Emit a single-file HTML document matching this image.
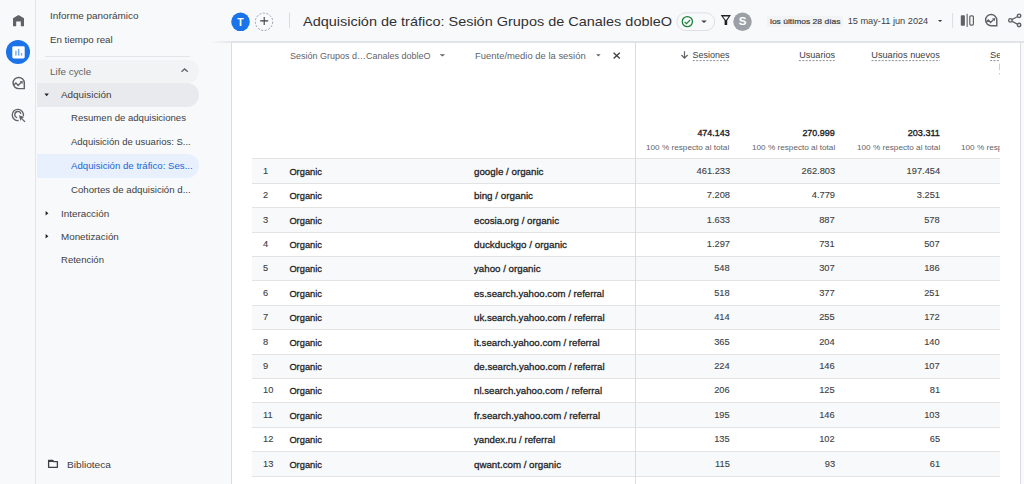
<!DOCTYPE html>
<html><head><meta charset="utf-8">
<style>
html,body{margin:0;padding:0;width:1024px;height:484px;overflow:hidden;background:#f8f9fa;font-family:"Liberation Sans",sans-serif;}
.a{position:absolute;}
.t{position:absolute;white-space:nowrap;line-height:1;font-family:"Liberation Sans",sans-serif;}
.row{position:absolute;left:252px;width:748px;}
.rl{position:absolute;left:252px;width:748px;height:1px;background:#e3e3e3;}
svg{position:absolute;overflow:visible;}
</style></head><body>
<!-- rail -->
<div class="a" style="left:0;top:0;width:35px;height:484px;background:#f8f9fa;border-right:1px solid #e3e5e8;"></div>
<!-- nav panel -->
<div class="a" style="left:36px;top:0;width:196px;height:484px;background:#f8f9fa;"></div>
<div class="a" style="left:231px;top:42px;width:1px;height:442px;background:#dadce0;"></div>
<!-- header shadow over nav edge -->
<div class="a" style="left:209px;top:41px;width:23px;height:2px;background:linear-gradient(to right,rgba(225,227,230,0),#e3e5e8);"></div>
<!-- content -->
<div class="a" style="left:232px;top:42px;width:788px;height:442px;background:#ffffff;"></div>
<div class="a" style="left:1020px;top:42px;width:1px;height:442px;background:#dadce0;"></div>
<!-- header bottom line -->
<div class="a" style="left:232px;top:41px;width:792px;height:1.5px;background:#e1e3e6;"></div>

<!-- nav separators / pills -->
<div class="a" style="left:45px;top:55.5px;width:145px;height:1px;background:#e3e5e8;"></div>
<div class="a" style="left:37px;top:60px;width:161.5px;height:23px;background:#f1f3f4;border-radius:0 12px 12px 0;"></div>
<div class="a" style="left:37px;top:83.3px;width:161.5px;height:23.6px;background:#e8eaed;border-radius:0 12px 12px 0;"></div>
<div class="a" style="left:37px;top:154.1px;width:161.5px;height:23.5px;background:#e8f0fe;border-radius:0 12px 12px 0;"></div>

<!-- rows -->
<div class="row" style="top:159.00px;height:24.00px;background:#f8f9fa"></div>
<div class="rl" style="top:183px"></div>
<div class="row" style="top:184.00px;height:23.00px;background:#ffffff"></div>
<div class="rl" style="top:207px"></div>
<div class="row" style="top:208.00px;height:24.00px;background:#f8f9fa"></div>
<div class="rl" style="top:232px"></div>
<div class="row" style="top:233.00px;height:23.00px;background:#ffffff"></div>
<div class="rl" style="top:256px"></div>
<div class="row" style="top:257.00px;height:23.00px;background:#f8f9fa"></div>
<div class="rl" style="top:280px"></div>
<div class="row" style="top:281.00px;height:24.00px;background:#ffffff"></div>
<div class="rl" style="top:305px"></div>
<div class="row" style="top:306.00px;height:23.00px;background:#f8f9fa"></div>
<div class="rl" style="top:329px"></div>
<div class="row" style="top:330.00px;height:24.00px;background:#ffffff"></div>
<div class="rl" style="top:354px"></div>
<div class="row" style="top:355.00px;height:23.00px;background:#f8f9fa"></div>
<div class="rl" style="top:378px"></div>
<div class="row" style="top:379.00px;height:23.00px;background:#ffffff"></div>
<div class="rl" style="top:402px"></div>
<div class="row" style="top:403.00px;height:24.00px;background:#f8f9fa"></div>
<div class="rl" style="top:427px"></div>
<div class="row" style="top:428.00px;height:23.00px;background:#ffffff"></div>
<div class="rl" style="top:451px"></div>
<div class="row" style="top:452.00px;height:24.00px;background:#f8f9fa"></div>
<div class="rl" style="top:476px"></div>
<div class="rl" style="top:157.9px"></div>
<div class="a" style="left:635px;top:42px;width:1px;height:442px;background:#dadce0;"></div>

<div class="a" style="left:766.8px;top:16.3px;width:76.2px;height:10.3px;background:#f1f3f4;"></div>
<div class="t" style="top:12.28px;font-size:9px;color:#3c4043;left:49.80px;transform:scale(1.1056,1.0000);transform-origin:0 7.62px;">Informe panorámico</div>
<div class="t" style="top:36.18px;font-size:9px;color:#3c4043;left:49.80px;transform:scale(1.0787,1.0000);transform-origin:0 7.62px;">En tiempo real</div>
<div class="t" style="top:67.58px;font-size:9px;color:#5f6368;left:49.90px;transform:scale(1.1004,1.0000);transform-origin:0 7.62px;">Life cycle</div>
<div class="t" style="top:91.18px;font-size:9px;color:#3c4043;left:60.80px;transform:scale(1.0971,1.0000);transform-origin:0 7.62px;">Adquisición</div>
<div class="t" style="top:114.28px;font-size:9px;color:#3c4043;left:71.30px;transform:scale(1.0640,1.0000);transform-origin:0 7.62px;">Resumen de adquisiciones</div>
<div class="t" style="top:138.18px;font-size:9px;color:#3c4043;left:71.30px;transform:scale(1.0539,1.0000);transform-origin:0 7.62px;">Adquisición de usuarios: S...</div>
<div class="t" style="top:162.38px;font-size:9px;color:#1967d2;left:71.30px;transform:scale(1.0717,1.0000);transform-origin:0 7.62px;">Adquisición de tráfico: Ses...</div>
<div class="t" style="top:186.28px;font-size:9px;color:#3c4043;left:71.30px;transform:scale(1.0728,1.0000);transform-origin:0 7.62px;">Cohortes de adquisición d...</div>
<div class="t" style="top:209.58px;font-size:9px;color:#3c4043;left:60.80px;transform:scale(1.0947,1.0000);transform-origin:0 7.62px;">Interacción</div>
<div class="t" style="top:232.68px;font-size:9px;color:#3c4043;left:60.80px;transform:scale(1.0899,1.0000);transform-origin:0 7.62px;">Monetización</div>
<div class="t" style="top:255.78px;font-size:9px;color:#3c4043;left:60.80px;transform:scale(1.0609,1.0000);transform-origin:0 7.62px;">Retención</div>
<div class="t" style="top:460.58px;font-size:9px;color:#3c4043;left:66.60px;transform:scale(1.1247,1.0000);transform-origin:0 7.62px;">Biblioteca</div>
<div class="t" style="top:15.19px;font-size:13.6px;color:#303134;left:303.30px;transform:scale(1.0638,1.0000);transform-origin:0 11.51px;">Adquisición de tráfico: Sesión Grupos de Canales dobleO</div>
<div class="t" style="top:17.81px;font-size:7.9px;color:#3c4043;left:769.80px;transform:scale(1.0787,1.0000);transform-origin:0 6.69px;-webkit-text-stroke:0.2px #3c4043;">los últimos 28 días</div>
<div class="t" style="top:16.47px;font-size:11.5px;color:#ffffff;font-weight:700;left:738.66px;z-index:6;">S</div>
<div class="t" style="top:17.11px;font-size:10.5px;color:#ffffff;font-weight:700;left:237.29px;z-index:6;">T</div>
<div class="t" style="top:16.71px;font-size:9.2px;color:#3c4043;left:847.70px;">15 may-11 jun 2024</div>
<div class="t" style="top:51.73px;font-size:9.3px;color:#5f6368;left:289.70px;transform:scale(0.9682,1.0000);transform-origin:0 7.87px;">Sesión Grupos d…Canales dobleO</div>
<div class="t" style="top:51.73px;font-size:9.3px;color:#5f6368;left:475.00px;transform:scale(1.0150,1.0000);transform-origin:0 7.87px;">Fuente/medio de la sesión</div>
<div class="t" style="top:49.54px;font-size:9.4px;color:#3c4043;right:294.30px;transform:scale(0.9591,1.0000);transform-origin:100% 7.96px;">Sesiones</div>
<div class="t" style="top:49.54px;font-size:9.4px;color:#3c4043;right:189.30px;transform:scale(0.9676,1.0000);transform-origin:100% 7.96px;">Usuarios</div>
<div class="t" style="top:49.54px;font-size:9.4px;color:#3c4043;right:83.90px;transform:scale(0.9824,1.0000);transform-origin:100% 7.96px;">Usuarios nuevos</div>
<div class="t" style="top:49.54px;font-size:9.4px;color:#3c4043;left:990.10px;">Se</div>
<div class="t" style="top:128.53px;font-size:9.3px;color:#202124;right:294.30px;transform:scale(0.9581,1.0000);transform-origin:100% 7.87px;-webkit-text-stroke:0.35px #202124;">474.143</div>
<div class="t" style="top:144.28px;font-size:7.7px;color:#5f6368;right:294.30px;transform:scale(1.0637,1.0000);transform-origin:100% 6.52px;">100 % respecto al total</div>
<div class="t" style="top:128.53px;font-size:9.3px;color:#202124;right:189.10px;transform:scale(0.9581,1.0000);transform-origin:100% 7.87px;-webkit-text-stroke:0.35px #202124;">270.999</div>
<div class="t" style="top:144.28px;font-size:7.7px;color:#5f6368;right:189.10px;transform:scale(1.0637,1.0000);transform-origin:100% 6.52px;">100 % respecto al total</div>
<div class="t" style="top:128.53px;font-size:9.3px;color:#202124;right:83.90px;transform:scale(0.9781,1.0000);transform-origin:100% 7.87px;-webkit-text-stroke:0.35px #202124;">203.311</div>
<div class="t" style="top:144.28px;font-size:7.7px;color:#5f6368;right:83.90px;transform:scale(1.0637,1.0000);transform-origin:100% 6.52px;">100 % respecto al total</div>
<div class="t" style="top:144.28px;font-size:7.7px;color:#5f6368;left:961.40px;transform:scale(1.0637,1.0000);transform-origin:0 6.52px;">100 % respecto al total</div>
<div class="t" style="top:166.33px;font-size:10px;color:#3c4043;left:263.00px;transform:scale(0.9300,0.9500);transform-origin:0 8.46px;-webkit-text-stroke:0.12px #3c4043;">1</div>
<div class="t" style="top:167.63px;font-size:9.3px;color:#202124;left:289.40px;-webkit-text-stroke:0.26px #202124;">Organic</div>
<div class="t" style="top:167.63px;font-size:9.3px;color:#202124;left:474.30px;transform:scale(1.0505,1.0000);transform-origin:0 7.87px;-webkit-text-stroke:0.26px #202124;">google / organic</div>
<div class="t" style="top:166.33px;font-size:10px;color:#3c4043;right:294.30px;transform:scale(0.9300,0.9500);transform-origin:100% 8.46px;-webkit-text-stroke:0.12px #3c4043;">461.233</div>
<div class="t" style="top:166.33px;font-size:10px;color:#3c4043;right:189.10px;transform:scale(0.9300,0.9500);transform-origin:100% 8.46px;-webkit-text-stroke:0.12px #3c4043;">262.803</div>
<div class="t" style="top:166.33px;font-size:10px;color:#3c4043;right:83.90px;transform:scale(0.9300,0.9500);transform-origin:100% 8.46px;-webkit-text-stroke:0.12px #3c4043;">197.454</div>
<div class="t" style="top:190.33px;font-size:10px;color:#3c4043;left:263.00px;transform:scale(0.9300,0.9500);transform-origin:0 8.46px;-webkit-text-stroke:0.12px #3c4043;">2</div>
<div class="t" style="top:191.63px;font-size:9.3px;color:#202124;left:289.40px;-webkit-text-stroke:0.26px #202124;">Organic</div>
<div class="t" style="top:191.63px;font-size:9.3px;color:#202124;left:474.30px;transform:scale(1.0571,1.0000);transform-origin:0 7.87px;-webkit-text-stroke:0.26px #202124;">bing / organic</div>
<div class="t" style="top:190.33px;font-size:10px;color:#3c4043;right:294.30px;transform:scale(0.9300,0.9500);transform-origin:100% 8.46px;-webkit-text-stroke:0.12px #3c4043;">7.208</div>
<div class="t" style="top:190.33px;font-size:10px;color:#3c4043;right:189.10px;transform:scale(0.9300,0.9500);transform-origin:100% 8.46px;-webkit-text-stroke:0.12px #3c4043;">4.779</div>
<div class="t" style="top:190.33px;font-size:10px;color:#3c4043;right:83.90px;transform:scale(0.9300,0.9500);transform-origin:100% 8.46px;-webkit-text-stroke:0.12px #3c4043;">3.251</div>
<div class="t" style="top:215.33px;font-size:10px;color:#3c4043;left:263.00px;transform:scale(0.9300,0.9500);transform-origin:0 8.46px;-webkit-text-stroke:0.12px #3c4043;">3</div>
<div class="t" style="top:216.63px;font-size:9.3px;color:#202124;left:289.40px;-webkit-text-stroke:0.26px #202124;">Organic</div>
<div class="t" style="top:216.63px;font-size:9.3px;color:#202124;left:474.30px;transform:scale(1.0479,1.0000);transform-origin:0 7.87px;-webkit-text-stroke:0.26px #202124;">ecosia.org / organic</div>
<div class="t" style="top:215.33px;font-size:10px;color:#3c4043;right:294.30px;transform:scale(0.9300,0.9500);transform-origin:100% 8.46px;-webkit-text-stroke:0.12px #3c4043;">1.633</div>
<div class="t" style="top:215.33px;font-size:10px;color:#3c4043;right:189.10px;transform:scale(0.9300,0.9500);transform-origin:100% 8.46px;-webkit-text-stroke:0.12px #3c4043;">887</div>
<div class="t" style="top:215.33px;font-size:10px;color:#3c4043;right:83.90px;transform:scale(0.9300,0.9500);transform-origin:100% 8.46px;-webkit-text-stroke:0.12px #3c4043;">578</div>
<div class="t" style="top:239.33px;font-size:10px;color:#3c4043;left:263.00px;transform:scale(0.9300,0.9500);transform-origin:0 8.46px;-webkit-text-stroke:0.12px #3c4043;">4</div>
<div class="t" style="top:240.63px;font-size:9.3px;color:#202124;left:289.40px;-webkit-text-stroke:0.26px #202124;">Organic</div>
<div class="t" style="top:240.63px;font-size:9.3px;color:#202124;left:474.30px;transform:scale(1.0587,1.0000);transform-origin:0 7.87px;-webkit-text-stroke:0.26px #202124;">duckduckgo / organic</div>
<div class="t" style="top:239.33px;font-size:10px;color:#3c4043;right:294.30px;transform:scale(0.9300,0.9500);transform-origin:100% 8.46px;-webkit-text-stroke:0.12px #3c4043;">1.297</div>
<div class="t" style="top:239.33px;font-size:10px;color:#3c4043;right:189.10px;transform:scale(0.9300,0.9500);transform-origin:100% 8.46px;-webkit-text-stroke:0.12px #3c4043;">731</div>
<div class="t" style="top:239.33px;font-size:10px;color:#3c4043;right:83.90px;transform:scale(0.9300,0.9500);transform-origin:100% 8.46px;-webkit-text-stroke:0.12px #3c4043;">507</div>
<div class="t" style="top:263.34px;font-size:10px;color:#3c4043;left:263.00px;transform:scale(0.9300,0.9500);transform-origin:0 8.46px;-webkit-text-stroke:0.12px #3c4043;">5</div>
<div class="t" style="top:264.63px;font-size:9.3px;color:#202124;left:289.40px;-webkit-text-stroke:0.26px #202124;">Organic</div>
<div class="t" style="top:264.63px;font-size:9.3px;color:#202124;left:474.30px;transform:scale(1.0462,1.0000);transform-origin:0 7.87px;-webkit-text-stroke:0.26px #202124;">yahoo / organic</div>
<div class="t" style="top:263.34px;font-size:10px;color:#3c4043;right:294.30px;transform:scale(0.9300,0.9500);transform-origin:100% 8.46px;-webkit-text-stroke:0.12px #3c4043;">548</div>
<div class="t" style="top:263.34px;font-size:10px;color:#3c4043;right:189.10px;transform:scale(0.9300,0.9500);transform-origin:100% 8.46px;-webkit-text-stroke:0.12px #3c4043;">307</div>
<div class="t" style="top:263.34px;font-size:10px;color:#3c4043;right:83.90px;transform:scale(0.9300,0.9500);transform-origin:100% 8.46px;-webkit-text-stroke:0.12px #3c4043;">186</div>
<div class="t" style="top:288.34px;font-size:10px;color:#3c4043;left:263.00px;transform:scale(0.9300,0.9500);transform-origin:0 8.46px;-webkit-text-stroke:0.12px #3c4043;">6</div>
<div class="t" style="top:289.63px;font-size:9.3px;color:#202124;left:289.40px;-webkit-text-stroke:0.26px #202124;">Organic</div>
<div class="t" style="top:289.63px;font-size:9.3px;color:#202124;left:474.30px;transform:scale(1.0360,1.0000);transform-origin:0 7.87px;-webkit-text-stroke:0.26px #202124;">es.search.yahoo.com / referral</div>
<div class="t" style="top:288.34px;font-size:10px;color:#3c4043;right:294.30px;transform:scale(0.9300,0.9500);transform-origin:100% 8.46px;-webkit-text-stroke:0.12px #3c4043;">518</div>
<div class="t" style="top:288.34px;font-size:10px;color:#3c4043;right:189.10px;transform:scale(0.9300,0.9500);transform-origin:100% 8.46px;-webkit-text-stroke:0.12px #3c4043;">377</div>
<div class="t" style="top:288.34px;font-size:10px;color:#3c4043;right:83.90px;transform:scale(0.9300,0.9500);transform-origin:100% 8.46px;-webkit-text-stroke:0.12px #3c4043;">251</div>
<div class="t" style="top:312.34px;font-size:10px;color:#3c4043;left:263.00px;transform:scale(0.9300,0.9500);transform-origin:0 8.46px;-webkit-text-stroke:0.12px #3c4043;">7</div>
<div class="t" style="top:313.63px;font-size:9.3px;color:#202124;left:289.40px;-webkit-text-stroke:0.26px #202124;">Organic</div>
<div class="t" style="top:313.63px;font-size:9.3px;color:#202124;left:474.30px;transform:scale(1.0398,1.0000);transform-origin:0 7.87px;-webkit-text-stroke:0.26px #202124;">uk.search.yahoo.com / referral</div>
<div class="t" style="top:312.34px;font-size:10px;color:#3c4043;right:294.30px;transform:scale(0.9300,0.9500);transform-origin:100% 8.46px;-webkit-text-stroke:0.12px #3c4043;">414</div>
<div class="t" style="top:312.34px;font-size:10px;color:#3c4043;right:189.10px;transform:scale(0.9300,0.9500);transform-origin:100% 8.46px;-webkit-text-stroke:0.12px #3c4043;">255</div>
<div class="t" style="top:312.34px;font-size:10px;color:#3c4043;right:83.90px;transform:scale(0.9300,0.9500);transform-origin:100% 8.46px;-webkit-text-stroke:0.12px #3c4043;">172</div>
<div class="t" style="top:337.34px;font-size:10px;color:#3c4043;left:263.00px;transform:scale(0.9300,0.9500);transform-origin:0 8.46px;-webkit-text-stroke:0.12px #3c4043;">8</div>
<div class="t" style="top:338.63px;font-size:9.3px;color:#202124;left:289.40px;-webkit-text-stroke:0.26px #202124;">Organic</div>
<div class="t" style="top:338.63px;font-size:9.3px;color:#202124;left:474.30px;transform:scale(1.0428,1.0000);transform-origin:0 7.87px;-webkit-text-stroke:0.26px #202124;">it.search.yahoo.com / referral</div>
<div class="t" style="top:337.34px;font-size:10px;color:#3c4043;right:294.30px;transform:scale(0.9300,0.9500);transform-origin:100% 8.46px;-webkit-text-stroke:0.12px #3c4043;">365</div>
<div class="t" style="top:337.34px;font-size:10px;color:#3c4043;right:189.10px;transform:scale(0.9300,0.9500);transform-origin:100% 8.46px;-webkit-text-stroke:0.12px #3c4043;">204</div>
<div class="t" style="top:337.34px;font-size:10px;color:#3c4043;right:83.90px;transform:scale(0.9300,0.9500);transform-origin:100% 8.46px;-webkit-text-stroke:0.12px #3c4043;">140</div>
<div class="t" style="top:361.34px;font-size:10px;color:#3c4043;left:263.00px;transform:scale(0.9300,0.9500);transform-origin:0 8.46px;-webkit-text-stroke:0.12px #3c4043;">9</div>
<div class="t" style="top:362.63px;font-size:9.3px;color:#202124;left:289.40px;-webkit-text-stroke:0.26px #202124;">Organic</div>
<div class="t" style="top:362.63px;font-size:9.3px;color:#202124;left:474.30px;transform:scale(1.0354,1.0000);transform-origin:0 7.87px;-webkit-text-stroke:0.26px #202124;">de.search.yahoo.com / referral</div>
<div class="t" style="top:361.34px;font-size:10px;color:#3c4043;right:294.30px;transform:scale(0.9300,0.9500);transform-origin:100% 8.46px;-webkit-text-stroke:0.12px #3c4043;">224</div>
<div class="t" style="top:361.34px;font-size:10px;color:#3c4043;right:189.10px;transform:scale(0.9300,0.9500);transform-origin:100% 8.46px;-webkit-text-stroke:0.12px #3c4043;">146</div>
<div class="t" style="top:361.34px;font-size:10px;color:#3c4043;right:83.90px;transform:scale(0.9300,0.9500);transform-origin:100% 8.46px;-webkit-text-stroke:0.12px #3c4043;">107</div>
<div class="t" style="top:385.34px;font-size:10px;color:#3c4043;left:263.00px;transform:scale(0.9300,0.9500);transform-origin:0 8.46px;-webkit-text-stroke:0.12px #3c4043;">10</div>
<div class="t" style="top:386.63px;font-size:9.3px;color:#202124;left:289.40px;-webkit-text-stroke:0.26px #202124;">Organic</div>
<div class="t" style="top:386.63px;font-size:9.3px;color:#202124;left:474.30px;transform:scale(1.0413,1.0000);transform-origin:0 7.87px;-webkit-text-stroke:0.26px #202124;">nl.search.yahoo.com / referral</div>
<div class="t" style="top:385.34px;font-size:10px;color:#3c4043;right:294.30px;transform:scale(0.9300,0.9500);transform-origin:100% 8.46px;-webkit-text-stroke:0.12px #3c4043;">206</div>
<div class="t" style="top:385.34px;font-size:10px;color:#3c4043;right:189.10px;transform:scale(0.9300,0.9500);transform-origin:100% 8.46px;-webkit-text-stroke:0.12px #3c4043;">125</div>
<div class="t" style="top:385.34px;font-size:10px;color:#3c4043;right:83.90px;transform:scale(0.9300,0.9500);transform-origin:100% 8.46px;-webkit-text-stroke:0.12px #3c4043;">81</div>
<div class="t" style="top:410.34px;font-size:10px;color:#3c4043;left:263.00px;transform:scale(0.9300,0.9500);transform-origin:0 8.46px;-webkit-text-stroke:0.12px #3c4043;">11</div>
<div class="t" style="top:411.63px;font-size:9.3px;color:#202124;left:289.40px;-webkit-text-stroke:0.26px #202124;">Organic</div>
<div class="t" style="top:411.63px;font-size:9.3px;color:#202124;left:474.30px;transform:scale(1.0425,1.0000);transform-origin:0 7.87px;-webkit-text-stroke:0.26px #202124;">fr.search.yahoo.com / referral</div>
<div class="t" style="top:410.34px;font-size:10px;color:#3c4043;right:294.30px;transform:scale(0.9300,0.9500);transform-origin:100% 8.46px;-webkit-text-stroke:0.12px #3c4043;">195</div>
<div class="t" style="top:410.34px;font-size:10px;color:#3c4043;right:189.10px;transform:scale(0.9300,0.9500);transform-origin:100% 8.46px;-webkit-text-stroke:0.12px #3c4043;">146</div>
<div class="t" style="top:410.34px;font-size:10px;color:#3c4043;right:83.90px;transform:scale(0.9300,0.9500);transform-origin:100% 8.46px;-webkit-text-stroke:0.12px #3c4043;">103</div>
<div class="t" style="top:434.34px;font-size:10px;color:#3c4043;left:263.00px;transform:scale(0.9300,0.9500);transform-origin:0 8.46px;-webkit-text-stroke:0.12px #3c4043;">12</div>
<div class="t" style="top:435.63px;font-size:9.3px;color:#202124;left:289.40px;-webkit-text-stroke:0.26px #202124;">Organic</div>
<div class="t" style="top:435.63px;font-size:9.3px;color:#202124;left:474.30px;transform:scale(1.0386,1.0000);transform-origin:0 7.87px;-webkit-text-stroke:0.26px #202124;">yandex.ru / referral</div>
<div class="t" style="top:434.34px;font-size:10px;color:#3c4043;right:294.30px;transform:scale(0.9300,0.9500);transform-origin:100% 8.46px;-webkit-text-stroke:0.12px #3c4043;">135</div>
<div class="t" style="top:434.34px;font-size:10px;color:#3c4043;right:189.10px;transform:scale(0.9300,0.9500);transform-origin:100% 8.46px;-webkit-text-stroke:0.12px #3c4043;">102</div>
<div class="t" style="top:434.34px;font-size:10px;color:#3c4043;right:83.90px;transform:scale(0.9300,0.9500);transform-origin:100% 8.46px;-webkit-text-stroke:0.12px #3c4043;">65</div>
<div class="t" style="top:459.34px;font-size:10px;color:#3c4043;left:263.00px;transform:scale(0.9300,0.9500);transform-origin:0 8.46px;-webkit-text-stroke:0.12px #3c4043;">13</div>
<div class="t" style="top:460.63px;font-size:9.3px;color:#202124;left:289.40px;-webkit-text-stroke:0.26px #202124;">Organic</div>
<div class="t" style="top:460.63px;font-size:9.3px;color:#202124;left:474.30px;transform:scale(1.0458,1.0000);transform-origin:0 7.87px;-webkit-text-stroke:0.26px #202124;">qwant.com / organic</div>
<div class="t" style="top:459.34px;font-size:10px;color:#3c4043;right:294.30px;transform:scale(0.9300,0.9500);transform-origin:100% 8.46px;-webkit-text-stroke:0.12px #3c4043;">115</div>
<div class="t" style="top:459.34px;font-size:10px;color:#3c4043;right:189.10px;transform:scale(0.9300,0.9500);transform-origin:100% 8.46px;-webkit-text-stroke:0.12px #3c4043;">93</div>
<div class="t" style="top:459.34px;font-size:10px;color:#3c4043;right:83.90px;transform:scale(0.9300,0.9500);transform-origin:100% 8.46px;-webkit-text-stroke:0.12px #3c4043;">61</div>
<div class="a" style="left:1000px;top:43px;width:20px;height:441px;background:#fff;z-index:3"></div>
<div class="a" style="left:1020px;top:43px;width:1px;height:441px;background:#dadce0;z-index:3"></div>
<div class="a" style="left:1021px;top:43px;width:3px;height:441px;background:#f8f9fa;z-index:3"></div>
<svg class="a" style="left:0;top:0;z-index:5" width="1024" height="484" viewBox="0 0 1024 484">
<!-- rail home -->
<path d="M13,18.3 L18.5,14.9 L24,18.3 L24,26.2 L20.8,26.2 L20.8,21.6 L16.2,21.6 L16.2,26.2 L13,26.2 Z" fill="#5f6368"/>
<!-- rail reports -->
<circle cx="18" cy="51.9" r="12" fill="#1a73e8"/>
<rect x="12.3" y="46.3" width="12.4" height="12.1" rx="1.3" fill="#fff"/>
<rect x="15.2" y="50.7" width="1.4" height="4.9" fill="#1a73e8" opacity="0.6"/>
<rect x="17.9" y="48.9" width="1.5" height="6.7" fill="#1a73e8" opacity="0.6"/>
<rect x="20.8" y="53" width="1.4" height="2.6" fill="#1a73e8" opacity="0.6"/>
<!-- rail explore -->
<g transform="translate(18.7,83.0)"><path d="M5.6,0 L5.6,5.6 L0,5.6 A5.6,5.6 0 1 1 5.6,0 Z" fill="none" stroke="#5f6368" stroke-width="1.45"/>
<polyline points="-5.3,2.4 -2.8,-0.1 -0.6,2.4 2.3,-0.4" fill="none" stroke="#5f6368" stroke-width="1.35"/>
<path d="M0.9,-1.7 L4.1,-2.1 L3.7,1.2 Z" fill="#5f6368"/></g>
<!-- rail advertising -->
<path d="M23.3,116.2 A5.6,5.6 0 1 0 18.6,120.5" fill="none" stroke="#5f6368" stroke-width="1.35"/>
<path d="M20.9,113.9 A3.1,3.1 0 1 0 17.2,117.6" fill="none" stroke="#5f6368" stroke-width="1.3"/>
<path d="M18.9,115.2 L24.3,117.1 L22.2,118.2 L25.5,121.5 L24.5,122.3 L21.3,119 L20.4,121 Z" fill="#5f6368"/>

<!-- nav triangles -->
<path d="M44.4,93.6 L48.9,93.6 L46.65,96.2 Z" fill="#202124"/>
<path d="M45.6,210.9 L48.4,213.2 L45.6,215.5 Z" fill="#202124"/>
<path d="M45.6,234 L48.4,236.3 L45.6,238.6 Z" fill="#202124"/>
<!-- chevron up -->
<polyline points="181.5,71.7 184.65,68.9 187.8,71.7" fill="none" stroke="#5f6368" stroke-width="1.3"/>
<!-- folder -->
<path d="M48.6,460.4 L52.6,460.4 L53.8,461.6 L57.4,461.6 L57.4,467.3 L48.6,467.3 Z" fill="none" stroke="#3c4043" stroke-width="1.3" stroke-linejoin="round"/>
<rect x="48.6" y="460.4" width="5" height="1.6" fill="#3c4043"/>

<!-- header: T avatar -->
<circle cx="240.5" cy="21.8" r="9.3" fill="#1a73e8"/>
<!-- plus dashed -->
<circle cx="264" cy="21.8" r="8.7" fill="none" stroke="#9aa0a6" stroke-width="1" stroke-dasharray="2 1.6"/>
<path d="M260.2,20.9 L268.2,20.9 M264.2,16.9 L264.2,24.9" stroke="#3c4043" stroke-width="1.1" fill="none"/>
<!-- separator -->
<rect x="289" y="12.6" width="1" height="15.3" fill="#dadce0"/>
<!-- status pill -->
<rect x="676.9" y="12.9" width="37.8" height="17.6" rx="8.8" fill="none" stroke="#dadce0" stroke-width="0.9"/>
<circle cx="687.35" cy="21.6" r="5.1" fill="none" stroke="#188038" stroke-width="1.25"/>
<polyline points="684.6,21.9 686.5,23.7 690.1,20.1" fill="none" stroke="#188038" stroke-width="1.25"/>
<path d="M701.2,20.4 L706.8,20.4 L704,23.1 Z" fill="#3c4043"/>
<!-- filter -->
<path fill-rule="evenodd" d="M720.7,15 L730.9,15 L727.2,20.6 L727.2,24.9 L724.6,24.9 L724.6,20.6 Z M722.9,16.5 L728.7,16.5 L725.9,20.3 Z" fill="#202124"/>
<!-- S avatar -->
<circle cx="742.5" cy="21.8" r="9.25" fill="#9aa0a6"/>
<!-- date chip -->
<path d="M937.9,19.9 L942.3,19.9 L940.1,22.1 Z" fill="#3c4043"/>
<rect x="952.1" y="12.9" width="1" height="15" fill="#dadce0"/>
<!-- compare -->
<rect x="960.8" y="15.2" width="4.1" height="10.5" rx="0.8" fill="#5f6368"/>
<rect x="966.6" y="13.8" width="1.1" height="13.1" fill="#5f6368"/>
<rect x="969.8" y="15.8" width="3.6" height="9.3" rx="1" fill="none" stroke="#5f6368" stroke-width="1.2"/>
<!-- insights -->
<g transform="translate(991.1,20.1)"><path d="M5.7,0 L5.7,5.6 L0,5.6 A5.6,5.6 0 1 1 5.7,0 Z" fill="none" stroke="#5f6368" stroke-width="1.45"/>
<polyline points="-5.3,2.4 -2.8,-0.1 -0.6,2.4 2.3,-0.4" fill="none" stroke="#5f6368" stroke-width="1.35"/>
<path d="M0.9,-1.7 L4.1,-2.1 L3.7,1.2 Z" fill="#5f6368"/></g>
<!-- share -->
<path d="M1010.4,20.4 L1019.1,15.8 M1010.4,20.4 L1019.1,25" stroke="#5f6368" stroke-width="1.25" fill="none"/>
<circle cx="1019.1" cy="15.8" r="1.75" fill="#e8eaed" stroke="#5f6368" stroke-width="1.35"/>
<circle cx="1010.4" cy="20.4" r="1.75" fill="#e8eaed" stroke="#5f6368" stroke-width="1.35"/>
<circle cx="1019.1" cy="25" r="1.75" fill="#e8eaed" stroke="#5f6368" stroke-width="1.35"/>

<!-- table header icons -->
<path d="M439.6,54.3 L445.2,54.3 L442.4,56.6 Z" fill="#5f6368"/>
<path d="M596.1,54.3 L600.6,54.3 L598.35,56.6 Z" fill="#5f6368"/>
<path d="M613.6,52.7 L619.8,58.5 M619.8,52.7 L613.6,58.5" stroke="#3c4043" stroke-width="1.3" fill="none"/>
<path d="M684.5,51.2 L684.5,58 M681.4,55 L684.5,58.2 L687.6,55" stroke="#5f6368" stroke-width="1.2" fill="none"/>
<g stroke="#80868b" stroke-width="0.9" stroke-dasharray="2 1.4">
<line x1="692.8" y1="60.6" x2="729.7" y2="60.6"/>
<line x1="798.9" y1="60.6" x2="834.7" y2="60.6"/>
<line x1="871.5" y1="60.6" x2="940.1" y2="60.6"/>
<line x1="990.1" y1="60.6" x2="1000" y2="60.6"/>
</g>
<rect x="999" y="63.6" width="0.9" height="6.7" fill="#e37400" opacity="0.45"/>
<rect x="999" y="73.4" width="0.9" height="0.9" fill="#5f6368" opacity="0.6"/>
</svg>

</body></html>
